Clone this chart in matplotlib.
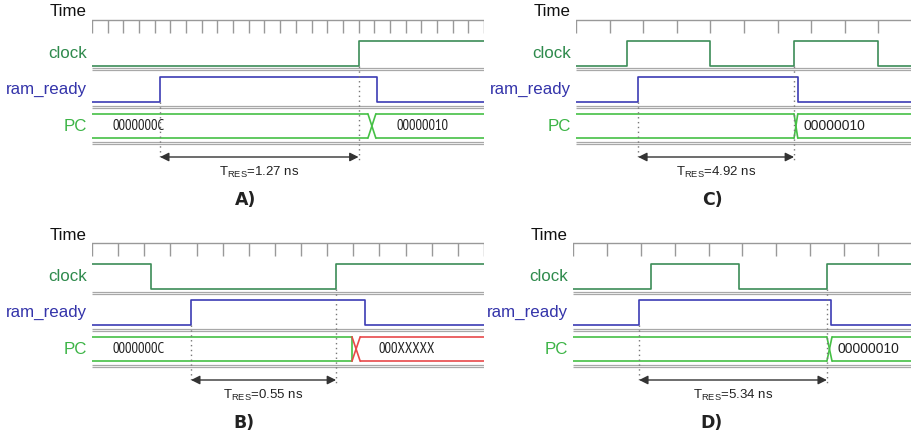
import matplotlib
matplotlib.use("Agg")
import matplotlib.pyplot as plt

# ─── data per panel (time axis in ruler-tick units) ─────────────────────────
panel_names = ["A)", "B)", "C)", "D)"]
n_ticks = [25, 15, 10, 10]

clock_init = [0, 1, 0, 0]
clock_edges = [
    [17.0],
    [2.26, 9.34],
    [1.52, 4.0, 6.49, 9.0],
    [2.30, 4.90, 7.49],
]

ram_init = [0, 0, 0, 0]
ram_edges = [
    [4.34, 18.2],
    [3.79, 10.45],
    [1.85, 6.6],
    [1.95, 7.61],
]

pc_values = [
    ["0000000C", "00000010"],
    ["0000000C", "000XXXXX"],
    ["", "00000010"],
    ["", "00000010"],
]
pc_valid = [
    [True, True],
    [True, False],
    [True, True],
    [True, True],
]
pc_transitions = [
    [(17.6, 18.1)],
    [(9.95, 10.26)],
    [(6.49, 6.6)],
    [(7.49, 7.64)],
]

t_res = ["1.27", "0.55", "4.92", "5.34"]
t_marks = [(4.34, 17.0), (3.79, 9.34), (1.85, 6.49), (1.95, 7.49)]

# ─── layout ────────────────────────────────────────────────────────────────
W, H = 912, 436
# (left px, right px, top px) of each waveform area
boxes = [(92, 484, 0), (92, 484, 223), (576, 912, 0), (573, 912, 223)]
letter_x = [246, 244, 712, 712]
PANEL_H = 213

TIME_Y, RULER_Y, TICK_Y = 12, 20, 33
CLK_HI, CLK_LO = 41, 66
RAM_HI, RAM_LO = 77, 102
PC_TOP, PC_BOT = 114, 138
SEPS = [(68.5, 70.5), (106, 108), (142, 144)]
ARROW_Y, TRES_Y, LETTER_Y = 157, 172, 200

CLK_C = "#3c8c58"
RAM_C = "#3c3cb4"
PC_C = "#46c046"
BAD_C = "#e8494a"
GRAY = "#a8a8a8"

plt.rcParams["font.family"] = ["Liberation Sans", "DejaVu Sans"]
plt.rcParams["mathtext.fontset"] = "custom"
plt.rcParams["mathtext.rm"] = "Liberation Sans"

fig = plt.figure(figsize=(W / 100, H / 100), dpi=100)


def step_xy(init, edges, n, lo, hi):
    xs = [0] + list(edges) + [n]
    lv = init
    ys = []
    for _ in xs[:-1]:
        ys.append(hi if lv else lo)
        lv = 1 - lv
    ys.append(ys[-1])
    return xs, ys


for i in range(4):
    x0, x1, top = boxes[i]
    n = n_ticks[i]
    ax = fig.add_axes([x0 / W, 1 - (top + PANEL_H) / H, (x1 - x0) / W, PANEL_H / H])
    ax.set_xlim(0, n)
    ax.set_ylim(PANEL_H, 0)
    ax.axis("off")

    def label(y, s, c):
        ax.annotate(s, xy=(0, y), xycoords=("axes fraction", "data"),
                    xytext=(-5, 0), textcoords="offset pixels",
                    ha="right", va="center", fontsize=12.2, color=c)

    # time ruler
    label(TIME_Y, "Time", "#111111")
    ax.plot([0, n], [RULER_Y, RULER_Y], color="#999999", lw=1)
    ax.vlines(range(n + 1), RULER_Y, TICK_Y, color="#999999", lw=1)

    # separators
    for a, b in SEPS:
        ax.hlines([a, b], 0, n, color=GRAY, lw=0.9)

    # clock
    label(53.5, "clock", "#2e8a4c")
    xs, ys = step_xy(clock_init[i], clock_edges[i], n, CLK_LO, CLK_HI)
    ax.step(xs, ys, where="post", color=CLK_C, lw=1.2)

    # ram_ready
    label(89.5, "ram_ready", "#3434aa")
    xs, ys = step_xy(ram_init[i], ram_edges[i], n, RAM_LO, RAM_HI)
    ax.step(xs, ys, where="post", color=RAM_C, lw=1.2)

    # PC bus
    label(126, "PC", "#3cb446")
    mid = (PC_TOP + PC_BOT) / 2
    bounds = [(0, 0)] + pc_transitions[i] + [(n, n)]
    narrow = i < 2
    for k, val in enumerate(pc_values[i]):
        c = PC_C if pc_valid[i][k] else BAD_C
        s_start = bounds[k][1]
        s_end = bounds[k + 1][0]
        ax.hlines([PC_TOP, PC_BOT], s_start, s_end, color=c, lw=1.2)
        if k > 0:
            t0, t1 = bounds[k]
            ax.plot([t0, t1], [PC_TOP, PC_BOT], color=c, lw=1.2)
            ax.plot([t0, t1], [PC_BOT, PC_TOP], color=c, lw=1.2)
        if k < len(pc_values[i]) - 1 and not pc_valid[i][k + 1]:
            t0 = bounds[k + 1][0]
            ax.plot([t0, t0], [PC_TOP, PC_BOT], color=c, lw=1.2)
        if val:
            if narrow:
                ax.annotate(val, xy=(s_start, mid), xytext=(47, 0),
                            textcoords="offset pixels", ha="center", va="center",
                            fontsize=10.5, color="#222222",
                            family=["PT Sans Narrow", "Liberation Sans"])
            else:
                ax.annotate(val, xy=(s_start, mid), xytext=(6, 0),
                            textcoords="offset pixels", ha="left", va="center",
                            fontsize=10, color="#222222")

    # response time marker
    a, b = t_marks[i]
    ax.vlines(a, RAM_LO, ARROW_Y + 3, color="#777777", lw=1, linestyles=(0, (1, 2.5)))
    ax.vlines(b, CLK_LO, ARROW_Y + 3, color="#777777", lw=1, linestyles=(0, (1, 2.5)))
    ax.annotate("", xy=(b, ARROW_Y), xytext=(a, ARROW_Y),
                arrowprops=dict(arrowstyle="<|-|>", color="#333333", lw=1,
                                shrinkA=0, shrinkB=0, mutation_scale=13))
    ax.text((a + b) / 2, TRES_Y, r"$\mathregular{T_{RES}}$=" + t_res[i] + " ns",
            ha="center", va="center", fontsize=9.5, color="#222222")

    fig.text(letter_x[i] / W, 1 - (top + LETTER_Y) / H, panel_names[i],
             ha="center", va="center", fontsize=12.5, fontweight="bold",
             family="DejaVu Sans", color="#222222")

fig.savefig("out.png", dpi=100, facecolor="white")
